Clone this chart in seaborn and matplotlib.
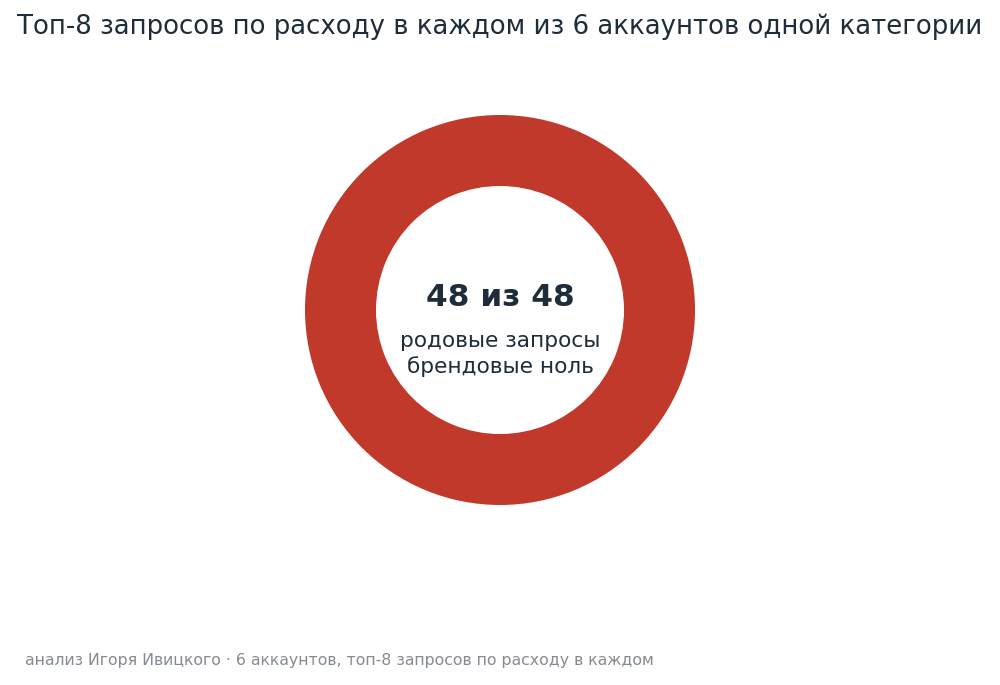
import matplotlib
matplotlib.use("Agg")
import matplotlib.pyplot as plt
import seaborn as sns

# query types across 6 accounts, top-8 by spend in each
query_types = ["родовые", "брендовые"]
query_counts = [48, 0]
total_queries = 48
ring_colors = ["#C0392B", "#2C3E50"]

title = "Топ-8 запросов по расходу в каждом из 6 аккаунтов одной категории"
center_main = f"{query_counts[0]} из {total_queries}"
center_sub = "родовые запросы\nбрендовые ноль"
footer = "анализ Игоря Ивицкого · 6 аккаунтов, топ-8 запросов по расходу в каждом"

sns.set_theme(style="white")
plt.rcParams['font.family'] = ['DejaVu Sans']

fig = plt.figure(figsize=(10, 6.85), dpi=100)
fig.patch.set_facecolor("white")

# square axes centred on the donut
ax = fig.add_axes([0.3, 175 / 685, 0.4, 400 / 685])
ax.pie(query_counts, colors=ring_colors, radius=195 / 200, startangle=90,
       counterclock=False,
       wedgeprops=dict(width=0.355, edgecolor="none"))
ax.set_xlim(-1, 1)
ax.set_ylim(-1, 1)
ax.set_aspect("equal")
ax.axis("off")

ax.text(0, 0.065, center_main, ha="center", va="center", fontsize=22.5,
        fontweight="bold", color="#1F2D3A")
ax.text(0, -0.22, center_sub, ha="center", va="center", fontsize=15.6,
        color="#1F2D3A", linespacing=1.3)

fig.text(0.5, 1 - 27 / 685, title, ha="center", va="center", fontsize=18.7,
         color="#1F2D3A")
fig.text(0.025, 1 - 661 / 685, footer, ha="left", va="center", fontsize=11.35,
         color="#858B91")

fig.savefig("out.png", dpi=100, facecolor="white")
